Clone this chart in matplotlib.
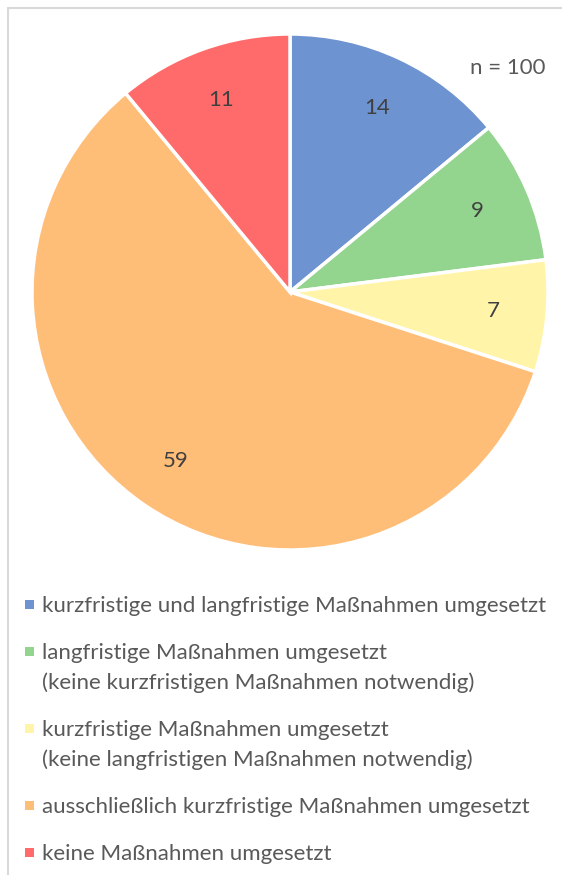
import matplotlib
matplotlib.use("Agg")
import matplotlib.pyplot as plt
from matplotlib.patches import Rectangle

# Data
values = [14, 9, 7, 59, 11]
labels = [
    "kurzfristige und langfristige Maßnahmen umgesetzt",
    "langfristige Maßnahmen umgesetzt\n(keine kurzfristigen Maßnahmen notwendig)",
    "kurzfristige Maßnahmen umgesetzt\n(keine langfristigen Maßnahmen notwendig)",
    "ausschließlich kurzfristige Maßnahmen umgesetzt",
    "keine Maßnahmen umgesetzt",
]
colors = ["#6E93D1", "#93D48E", "#FFF4A8", "#FFBE78", "#FF6B6B"]
n_text = "n = 100"

plt.rcParams["font.family"] = ["Lato", "DejaVu Sans"]

W, H = 562, 875
fig = plt.figure(figsize=(W / 100, H / 100), dpi=100)

# outer frame like the Excel chart area
fig.patches.append(Rectangle((8 / W, -0.1), 1.2, 1 - 8 / H + 0.1, transform=fig.transFigure,
                             fill=False, edgecolor="#D9D9D9", linewidth=1.5))

# pie: centre (290, 292) px, radius 258 px
cx, cy, r = 290, 292, 258
ax = fig.add_axes([(cx - r) / W, (H - cy - r) / H, 2 * r / W, 2 * r / H])
wedges, texts, autotexts = ax.pie(
    values, colors=colors, startangle=90, counterclock=False,
    autopct=lambda p: f"{p * sum(values) / 100:.0f}", pctdistance=0.79,
    wedgeprops=dict(edgecolor="white", linewidth=2.5),
    textprops=dict(color="#404040", fontsize=16),
)
ax.set_xlim(-1, 1)
ax.set_ylim(-1, 1)
ax.set_aspect("equal")
ax.axis("off")

fig.text(508 / W, 1 - 68 / H, n_text, ha="center", va="center", fontsize=16, color="#595959")

# legend, marker aligned with first line of each entry
y = 604
for lab, col in zip(labels, colors):
    fig.patches.append(Rectangle((25 / W, 1 - (y + 4.5) / H), 9 / W, 9 / H,
                                 transform=fig.transFigure, facecolor=col, edgecolor="none"))
    for i, line in enumerate(lab.split("\n")):
        fig.text(42 / W, 1 - (y + 30 * i) / H, line, ha="left", va="center_baseline",
                 fontsize=16, color="#595959")
    y += 47 + 30 * lab.count("\n")

fig.savefig("out.png", dpi=100)
